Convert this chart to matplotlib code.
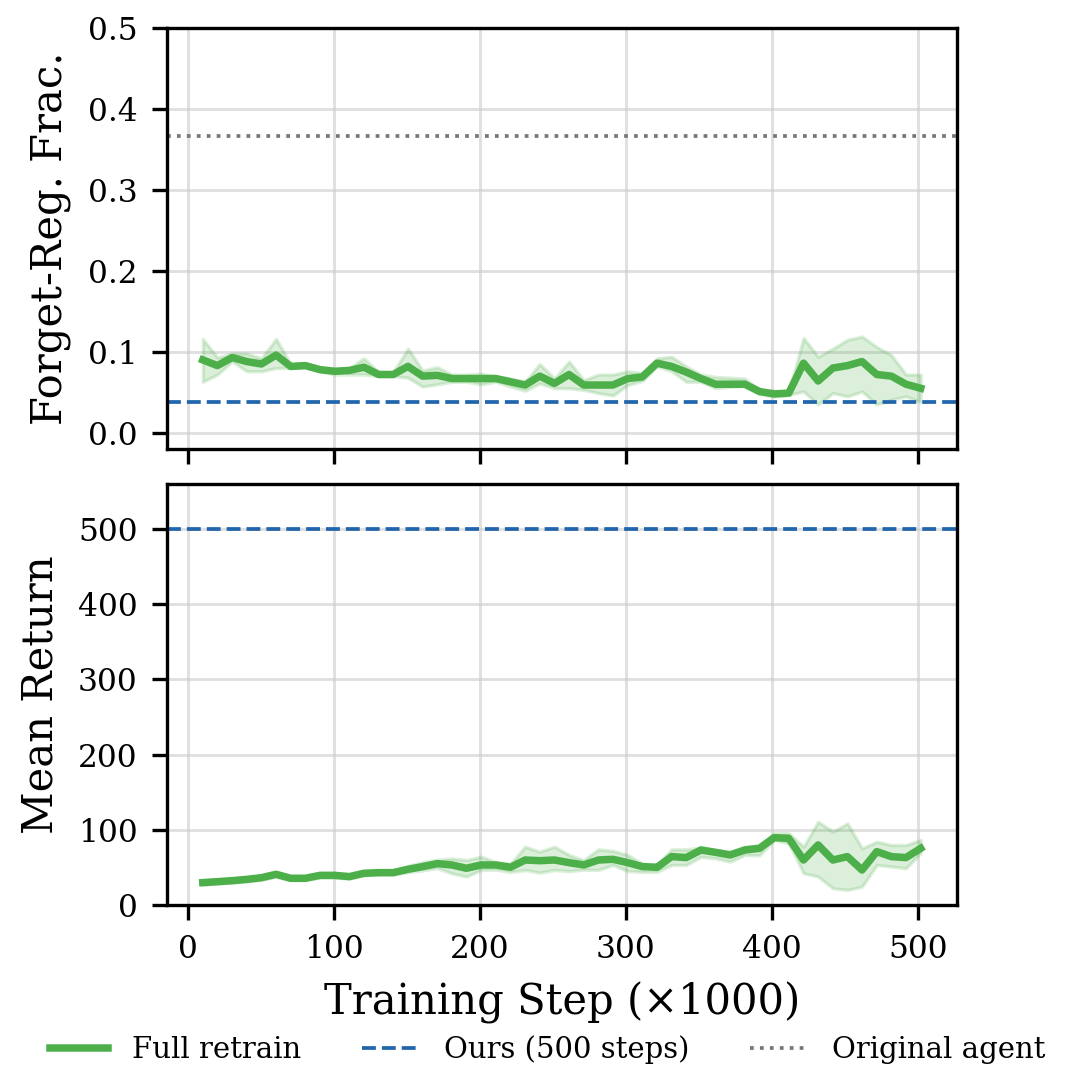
import matplotlib
matplotlib.use("Agg")
import matplotlib.pyplot as plt

# evaluation points (training step / 1000)
steps = [10.0, 20.0, 30.1, 40.1, 50.2, 60.2, 70.2, 80.3, 90.3, 100.4,
         110.4, 120.4, 130.5, 140.5, 150.6, 160.6, 170.7, 180.7, 190.7, 200.8,
         210.8, 220.9, 230.9, 240.9, 251.0, 261.0, 271.1, 281.1, 291.1, 301.2,
         311.2, 321.3, 331.3, 341.3, 351.4, 361.4, 371.5, 381.5, 391.5, 401.6,
         411.6, 421.7, 431.7, 441.8, 451.8, 461.8, 471.9, 481.9, 491.9, 502.0]

# forget-region fraction of full retrain: mean and band
forget_mean = [0.090, 0.083, 0.093, 0.088, 0.085, 0.096, 0.082, 0.083, 0.078, 0.076,
               0.077, 0.081, 0.072, 0.072, 0.082, 0.070, 0.071, 0.067, 0.067, 0.067,
               0.067, 0.063, 0.059, 0.070, 0.061, 0.072, 0.059, 0.059, 0.059, 0.067,
               0.069, 0.086, 0.082, 0.075, 0.067, 0.060, 0.060, 0.060, 0.051, 0.048,
               0.049, 0.086, 0.064, 0.080, 0.083, 0.088, 0.072, 0.070, 0.060, 0.055]
forget_lo = [0.063, 0.072, 0.088, 0.076, 0.076, 0.080, 0.080, 0.081, 0.076, 0.072,
             0.072, 0.072, 0.070, 0.070, 0.068, 0.057, 0.060, 0.063, 0.063, 0.060,
             0.063, 0.057, 0.052, 0.061, 0.055, 0.055, 0.053, 0.049, 0.046, 0.059,
             0.064, 0.082, 0.076, 0.063, 0.063, 0.055, 0.057, 0.058, 0.048, 0.045,
             0.047, 0.051, 0.035, 0.049, 0.045, 0.051, 0.035, 0.041, 0.045, 0.038]
forget_hi = [0.116, 0.093, 0.098, 0.098, 0.092, 0.116, 0.085, 0.085, 0.081, 0.079,
             0.080, 0.092, 0.075, 0.075, 0.104, 0.077, 0.081, 0.072, 0.072, 0.073,
             0.070, 0.067, 0.063, 0.085, 0.067, 0.088, 0.065, 0.072, 0.072, 0.076,
             0.074, 0.092, 0.094, 0.082, 0.072, 0.069, 0.068, 0.067, 0.053, 0.052,
             0.051, 0.117, 0.094, 0.104, 0.115, 0.119, 0.106, 0.096, 0.072, 0.072]

# mean return of full retrain: mean and band
return_mean = [29.7, 31.0, 32.3, 34.0, 36.3, 40.8, 35.5, 35.5, 39.4, 39.4,
               37.7, 42.1, 43.0, 43.0, 47.4, 51.0, 55.0, 53.2, 48.8, 53.2,
               53.2, 50.1, 59.8, 58.9, 59.8, 56.3, 53.2, 59.8, 60.7, 56.3,
               51.0, 50.1, 64.3, 63.0, 73.1, 70.0, 66.5, 73.1, 75.3, 89.5,
               88.6, 59.8, 79.8, 59.8, 64.3, 46.5, 70.9, 64.3, 63.0, 75.3]
return_lo = [27.0, 28.5, 29.8, 31.5, 33.5, 37.5, 33.0, 33.0, 36.5, 36.5,
             35.0, 39.5, 40.5, 40.5, 43.5, 46.0, 49.0, 42.0, 37.7, 46.5,
             47.0, 44.0, 46.5, 43.0, 46.5, 45.0, 47.0, 46.5, 53.2, 45.0,
             44.0, 44.0, 53.2, 53.2, 64.0, 62.0, 57.6, 66.5, 66.0, 86.5,
             82.0, 42.2, 37.7, 22.2, 20.0, 24.4, 53.2, 51.0, 48.8, 69.1]
return_hi = [32.0, 33.5, 35.0, 37.0, 39.0, 43.5, 38.0, 38.0, 42.0, 42.0,
             40.5, 44.5, 45.5, 45.5, 52.0, 57.0, 60.0, 61.9, 59.8, 64.3,
             57.0, 55.0, 77.5, 70.9, 77.5, 66.5, 59.8, 74.0, 72.0, 66.5,
             55.0, 53.2, 74.0, 74.0, 76.5, 73.1, 71.0, 77.5, 79.8, 95.5,
             95.5, 77.5, 110.8, 97.5, 108.6, 75.3, 84.2, 79.8, 79.8, 86.5]

ours_forget = 0.038
orig_forget = 0.367
ours_return = 500

GREEN = '#4daf4a'
BLUE = '#2166ac'
GRAY = '#777777'

plt.rcParams['font.family'] = 'DejaVu Serif'
plt.rcParams['xtick.labelsize'] = 7.5
plt.rcParams['ytick.labelsize'] = 7.5


def main():
    fig = plt.figure(figsize=(1070 / 300, 1089 / 300), dpi=300)
    ax1 = fig.add_axes([0.156, 0.5877, 0.738, 0.3866])
    ax2 = fig.add_axes([0.156, 0.169, 0.738, 0.3866], sharex=ax1)

    # top: forget-region fraction
    ax1.fill_between(steps, forget_lo, forget_hi, color=GREEN, alpha=0.2, lw=0.8)
    ax1.plot(steps, forget_mean, color=GREEN, lw=1.8, label='Full retrain')
    ax1.axhline(ours_forget, color=BLUE, ls='--', lw=0.9, label='Ours (500 steps)')
    ax1.axhline(orig_forget, color=GRAY, ls=':', lw=0.9, label='Original agent')
    ax1.set_ylim(-0.02, 0.5)
    ax1.set_yticks([0.0, 0.1, 0.2, 0.3, 0.4, 0.5])
    ax1.set_ylabel('Forget-Reg. Frac.', fontsize=10)
    ax1.tick_params(labelbottom=False)
    ax1.grid(True, color='#cccccc', alpha=0.6, lw=0.7)

    # bottom: mean return
    ax2.fill_between(steps, return_lo, return_hi, color=GREEN, alpha=0.2, lw=0.8)
    ax2.plot(steps, return_mean, color=GREEN, lw=1.8)
    ax2.axhline(ours_return, color=BLUE, ls='--', lw=0.9)
    ax2.set_ylim(0, 560)
    ax2.set_yticks([0, 100, 200, 300, 400, 500])
    ax2.set_xticks([0, 100, 200, 300, 400, 500])
    ax2.set_ylabel('Mean Return', fontsize=10)
    ax2.set_xlabel('Training Step (×1000)', fontsize=10)
    ax2.grid(True, color='#cccccc', alpha=0.6, lw=0.7)

    for ax in (ax1, ax2):
        ax.set_axisbelow(True)
        for s in ax.spines.values():
            s.set_linewidth(0.8)

    lines, labels = ax1.get_legend_handles_labels()
    fig.legend(lines, labels, loc='center', bbox_to_anchor=(0.512, 0.036),
               ncol=3, frameon=False, fontsize=7, columnspacing=2.1)

    fig.savefig('out.png', dpi=300)


if __name__ == "__main__":
    main()
